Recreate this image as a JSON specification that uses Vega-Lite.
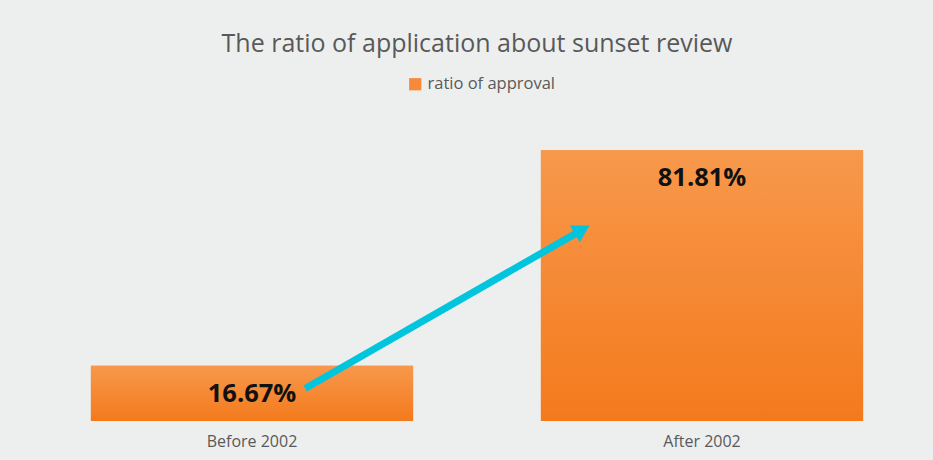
{
  "$schema": "https://vega.github.io/schema/vega-lite/v6.json",
  "autosize": "none",
  "width": 900,
  "height": 331,
  "padding": {"left": 27, "top": 90, "right": 6, "bottom": 39},
  "background": "#edefef",
  "config": {"view": {"stroke": null}, "font": "Open Sans"},
  "title": {
    "text": "The ratio of application about sunset review",
    "anchor": "middle",
    "frame": "group",
    "fontSize": 25,
    "fontWeight": "normal",
    "color": "#595959",
    "offset": 19
  },
  "datasets": {
    "bars": [
      {"period": "Before 2002", "ratio": 16.67, "label": "16.67%", "series": "ratio of approval"},
      {"period": "After 2002", "ratio": 81.81, "label": "81.81%", "series": "ratio of approval"}
    ],
    "arrow": [
      {"from": "Before 2002", "to": "After 2002", "from_ratio": 9.8, "to_ratio": 57.6, "head_ratio": 57.8}
    ]
  },
  "layer": [
    {
      "data": {"name": "bars"},
      "mark": {"type": "bar"},
      "encoding": {
        "x": {"field": "period", "type": "nominal", "sort": null,
              "scale": {"paddingInner": 0.284, "paddingOuter": 0.142},
              "axis": {"title": null, "labelAngle": 0, "domain": false, "ticks": false,
                       "labelFontSize": 16, "labelColor": "#595959", "labelPadding": 12}},
        "y": {"field": "ratio", "type": "quantitative", "scale": {"domain": [0, 100]}, "axis": null},
        "color": {"field": "series", "type": "nominal", "scale": {"range": ["#f68a3a"]},
                  "legend": {"title": null, "orient": "none", "legendX": 380, "legendY": -14,
                             "symbolType": "square", "symbolSize": 150, "symbolStrokeWidth": 0,
                             "labelFontSize": 16.5, "labelColor": "#595959", "padding": 0, "labelOffset": 4}}
      }
    },
    {
      "data": {"name": "bars"},
      "mark": {"type": "bar", "fill": {"gradient": "linear", "x1": 0, "y1": 0, "x2": 0, "y2": 1,
               "stops": [{"offset": 0, "color": "#f7984c"}, {"offset": 1, "color": "#f47a1c"}]}},
      "encoding": {
        "x": {"field": "period", "type": "nominal", "sort": null},
        "y": {"field": "ratio", "type": "quantitative"}
      }
    },
    {
      "data": {"name": "bars"},
      "mark": {"type": "text", "fontSize": 25.5, "fontWeight": "bold", "color": "#111111", "baseline": "alphabetic", "dy": 36},
      "encoding": {
        "x": {"field": "period", "type": "nominal", "sort": null},
        "y": {"field": "ratio", "type": "quantitative"},
        "text": {"field": "label"}
      }
    },
    {
      "data": {"name": "arrow"},
      "mark": {"type": "rule", "color": "#00c5dc", "strokeWidth": 7, "strokeCap": "butt"},
      "encoding": {
        "x": {"field": "from", "type": "nominal", "sort": null, "bandPosition": 0.665},
        "x2": {"field": "to", "bandPosition": 0.125},
        "y": {"field": "from_ratio", "type": "quantitative"},
        "y2": {"field": "to_ratio"}
      }
    },
    {
      "data": {"name": "arrow"},
      "mark": {"type": "point", "shape": "triangle-up", "filled": true, "color": "#00c5dc", "size": 380, "angle": 60, "opacity": 1},
      "encoding": {
        "x": {"field": "to", "type": "nominal", "sort": null, "bandPosition": 0.128},
        "y": {"field": "head_ratio", "type": "quantitative"}
      }
    }
  ]
}
